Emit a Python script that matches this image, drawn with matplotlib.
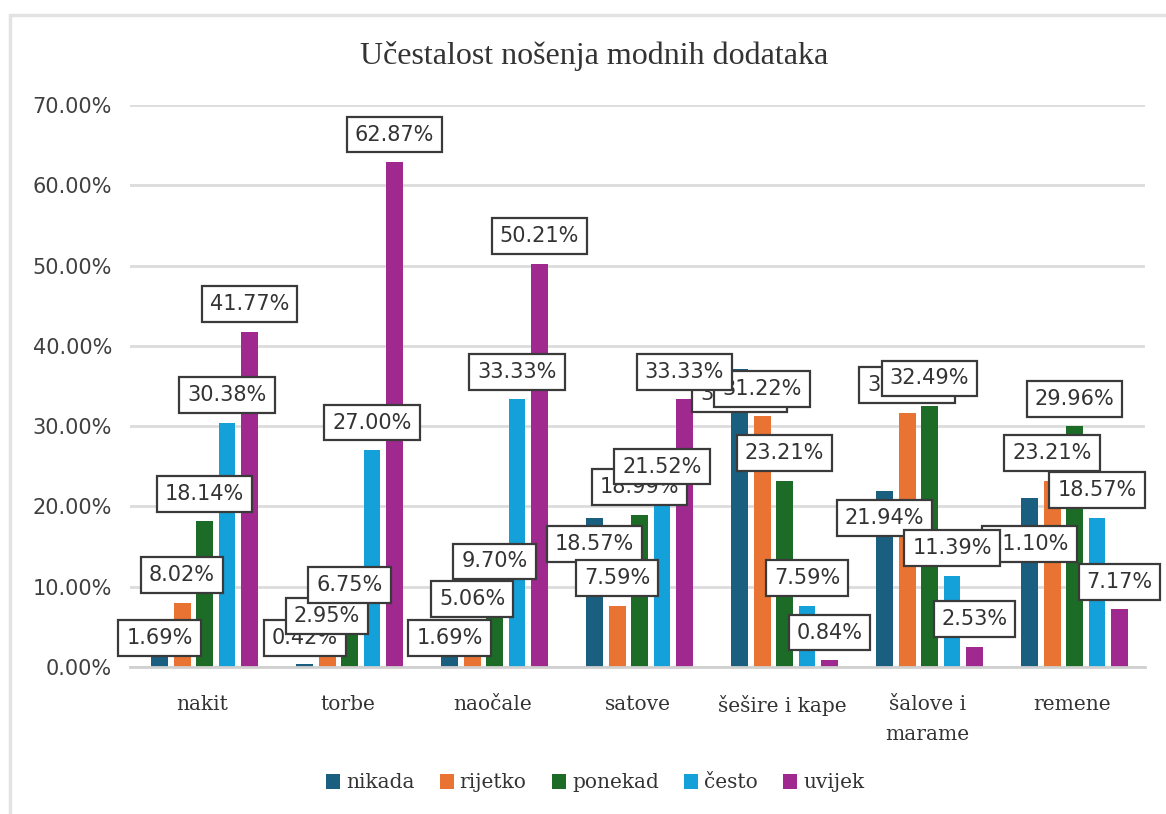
import matplotlib.pyplot as plt
import numpy as np
from matplotlib.patches import Rectangle

# data
categories = ['nakit', 'torbe', 'naočale', 'satove', 'šešire i kape', 'šalove i\nmarame', 'remene']
series = ['nikada', 'rijetko', 'ponekad', 'često', 'uvijek']
nikada = [1.69, 0.42, 1.69, 18.57, 37.13, 21.94, 21.10]
rijetko = [8.02, 2.95, 5.06, 7.59, 31.22, 31.65, 23.21]
ponekad = [18.14, 6.75, 9.70, 18.99, 23.21, 32.49, 29.96]
cesto = [30.38, 27.00, 33.33, 21.52, 7.59, 11.39, 18.57]
uvijek = [41.77, 62.87, 50.21, 33.33, 0.84, 2.53, 7.17]
values = [nikada, rijetko, ponekad, cesto, uvijek]
yticks = [0, 10, 20, 30, 40, 50, 60, 70]

colors = ['#1a5e80', '#e97332', '#1c6b26', '#14a0d8', '#a0298f']

# where the labels sit (data units), the nikada ones were moved around
label_up = 3.45
nikada_label_y = [3.6, 3.6, 3.6, 15.3, 34.0, 18.6, 15.3]

fig = plt.figure(figsize=(11.66, 8.14), dpi=100)
fig.patches.append(Rectangle((10 / 1166, -0.05), 1.2, 1 - 15 / 814 + 0.05,
                             transform=fig.transFigure, fill=False,
                             edgecolor='#e3e3e3', linewidth=2.5))
ax = fig.add_axes([130 / 1166, 1 - 667 / 814, 1015 / 1166, 562 / 814])

x = np.arange(len(categories))
slot = 0.155
width = 0.117
for i, (name, vals) in enumerate(zip(series, values)):
    xs = x + (i - 2) * slot + 0.014
    ax.bar(xs, vals, width=width, color=colors[i], label=name, zorder=2)

for i, vals in enumerate(values):
    xs = x + (i - 2) * slot + 0.014
    for j, v in enumerate(vals):
        ly = nikada_label_y[j] if i == 0 else v + label_up
        ax.text(xs[j], ly, '%.2f%%' % v, ha='center', va='center',
                fontsize=15, color='#333333', family='DejaVu Sans', zorder=5 + i,
                bbox=dict(boxstyle='square,pad=0.38', facecolor='white',
                          edgecolor='#3a3a3a', linewidth=1.6))

ax.set_xlim(-0.5, len(categories) - 0.5)
ax.set_ylim(0, 70)
ax.set_yticks(yticks)
ax.set_yticklabels(['%.2f%%' % t for t in yticks], family='DejaVu Sans',
                   fontsize=15, color='#404040')
ax.set_xticks(x)
ax.set_xticklabels(categories, family='DejaVu Serif', fontsize=14.5,
                   color='#333333', linespacing=1.75)
ax.tick_params(axis='both', length=0)
ax.tick_params(axis='y', pad=13)
ax.tick_params(axis='x', pad=20)
for t in ax.get_xticklabels():
    t.set_verticalalignment('top')
ax.grid(axis='y', color='#dcdcdc', linewidth=2, zorder=0)
ax.set_axisbelow(True)
for s in ['top', 'right', 'left']:
    ax.spines[s].set_visible(False)
ax.spines['bottom'].set_color('#d0d0d0')
ax.spines['bottom'].set_linewidth(2)

fig.text(594 / 1166, 1 - 56 / 814, 'Učestalost nošenja modnih dodataka', ha='center',
         va='center', family='Liberation Serif', fontsize=23, color='#333333')

fig.legend(loc='center', bbox_to_anchor=(595 / 1166, 1 - 783 / 814), ncol=5, frameon=False,
           prop={'family': 'DejaVu Serif', 'size': 14.5}, handlelength=0.7,
           handleheight=0.7, handletextpad=0.3, columnspacing=1.25, labelcolor='#333333')

fig.savefig('out.png', dpi=100)
